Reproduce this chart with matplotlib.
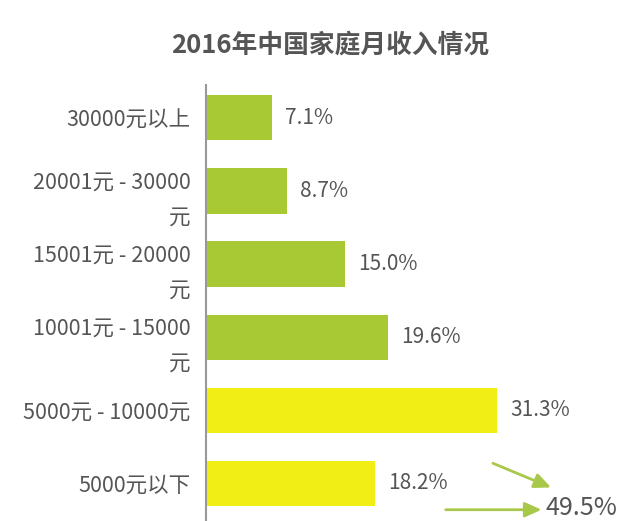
import numpy as np
import matplotlib
matplotlib.use("Agg")
import matplotlib.pyplot as plt

plt.rcParams['font.family'] = ['Noto Sans CJK SC', 'DejaVu Sans']

categories = ["30000元以上", "20001元 - 30000\n元", "15001元 - 20000\n元",
              "10001元 - 15000\n元", "5000元 - 10000元", "5000元以下"]
values = [7.1, 8.7, 15.0, 19.6, 31.3, 18.2]
colors = ["#a8c934", "#a8c934", "#a8c934", "#a8c934", "#f0ee14", "#f0ee14"]
total_label = "49.5%"

fig = plt.figure(figsize=(6.26, 5.21), dpi=100)
ax = fig.add_axes([0.329, 0.002, 0.64, 0.835])

ind = np.arange(len(categories))
ax.barh(ind, values, height=0.62, color=colors)
ax.set_ylim(5.5, -0.45)
ax.set_xlim(0, 43.1)

for i, v in enumerate(values):
    ax.text(v + 1.4, i, "%.1f%%" % v, va="center", ha="left", fontsize=15, color="#555555")

ax.set_yticks(ind)
ax.set_yticklabels(categories, fontsize=15.5, color="#555555", linespacing=1.75)
ax.tick_params(axis="y", length=0, pad=11)
ax.set_xticks([])
for s in ["top", "right", "bottom"]:
    ax.spines[s].set_visible(False)
ax.spines["left"].set_color("#999999")
ax.spines["left"].set_linewidth(1.5)

# arrows pointing at the combined share
arrow = dict(arrowstyle="-|>,head_length=1.0,head_width=0.45", color="#a8c84a", lw=2)
ax.annotate("", xy=(37.4, 5.07), xytext=(30.6, 4.71), arrowprops=arrow, annotation_clip=False)
ax.annotate("", xy=(36.4, 5.36), xytext=(25.5, 5.36), arrowprops=arrow, annotation_clip=False)
ax.text(36.5, 5.33, total_label, va="center", ha="left", fontsize=18, color="#555555", clip_on=False)

fig.text(0.527, 0.913, "2016年中国家庭月收入情况", ha="center", va="center",
         fontsize=18.5, fontweight="bold", color="#555555")

fig.savefig("out.png", dpi=100)
